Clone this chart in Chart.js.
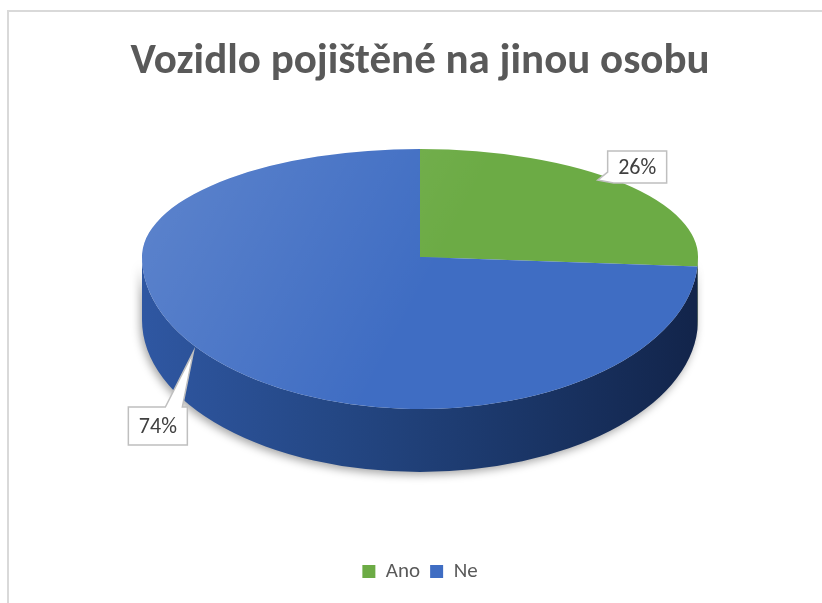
<!DOCTYPE html>
<html><head><meta charset="utf-8">
<script src="https://cdn.jsdelivr.net/npm/chart.js@4/dist/chart.umd.min.js"></script>
<style>
html,body{margin:0;padding:0;background:#fff;overflow:hidden;width:822px;height:603px}
#frame{position:absolute;left:7px;top:10px;width:900px;height:700px;border-left:2px solid #d9d9d9;border-top:2px solid #d9d9d9}
#c{position:absolute;left:0;top:0}
</style></head><body>
<div id="frame"><canvas id="c" width="822" height="593"></canvas></div>
<script>
const categories = ['Ano', 'Ne'];
const values = [26, 74];
const percentLabels = ['26%', '74%'];
const titleText = 'Vozidlo pojištěné na jinou osobu';

const topColors = ['#6CAB45', '#3F6DC3'];
const sideStops = [
  [[0,'#3E6C29'],[1,'#2A4A1B']],
  [[0,'#2F57A2'],[0.35,'#244784'],[0.7,'#1A3566'],[1,'#12244A']]
];

// perspective-like tilt: back half and front half of the top use different vertical scales
const tilt = {
  id: 'tilt',
  beforeDatasetsDraw(chart, args, opts) {
    const ctx = chart.ctx;
    const arcs = chart.getDatasetMeta(0).data;
    const a0 = arcs[0];
    const cx = a0.x, r = a0.outerRadius, cy = opts.centerY;
    const ryF = r * opts.front, d = opts.depth;
    ctx.save();
    ctx.shadowColor = 'rgba(0,0,0,0.35)';
    ctx.shadowBlur = 8;
    ctx.shadowOffsetX = -2;
    ctx.shadowOffsetY = 3;
    arcs.forEach((arc, i) => {
      const s = Math.max(arc.startAngle, 0), e = Math.min(arc.endAngle, Math.PI);
      if (e <= s) return;
      const g = ctx.createLinearGradient(cx - r, 0, cx + r, 0);
      sideStops[i].forEach(st => g.addColorStop(st[0], st[1]));
      ctx.beginPath();
      ctx.ellipse(cx, cy, r, ryF, 0, s, e, false);
      ctx.ellipse(cx, cy + d, r, ryF, 0, e, s, true);
      ctx.closePath();
      ctx.fillStyle = g;
      ctx.fill();
    });
    ctx.restore();
    // back half, drawn by the library itself
    ctx.save();
    ctx.beginPath();
    ctx.rect(0, 0, chart.width, cy + 1);
    ctx.clip();
    ctx.translate(cx, cy);
    ctx.scale(1, opts.back);
    ctx.translate(-cx, -a0.y);
  },
  afterDatasetsDraw(chart, args, opts) {
    const ctx = chart.ctx;
    ctx.restore();
    const arcs = chart.getDatasetMeta(0).data;
    const a0 = arcs[0];
    const cx = a0.x, r = a0.outerRadius, cy = opts.centerY;
    // front half
    ctx.save();
    ctx.beginPath();
    ctx.rect(0, cy, chart.width, chart.height);
    ctx.clip();
    ctx.translate(cx, cy);
    ctx.scale(1, opts.front);
    ctx.translate(-cx, -a0.y);
    arcs.forEach(arc => arc.draw(ctx));
    ctx.restore();
    // soft light on the top surface
    ctx.save();
    ctx.beginPath();
    ctx.ellipse(cx, cy, r, r * opts.back, 0, Math.PI, 2 * Math.PI, false);
    ctx.ellipse(cx, cy, r, r * opts.front, 0, 0, Math.PI, false);
    ctx.closePath();
    const lg = ctx.createLinearGradient(cx - r, cy - r * opts.back, cx, cy + 40);
    lg.addColorStop(0, 'rgba(255,255,255,0.16)');
    lg.addColorStop(1, 'rgba(255,255,255,0)');
    ctx.fillStyle = lg;
    ctx.fill();
    ctx.restore();
  }
};

const callouts = {
  id: 'callouts',
  afterDraw(chart, args, opts) {
    const ctx = chart.ctx;
    const arcs = chart.getDatasetMeta(0).data;
    const t = chart.options.plugins.tilt;
    arcs.forEach((arc, i) => {
      const mid = (arc.startAngle + arc.endAngle) / 2;
      const sn = Math.sin(mid);
      const ax = arc.x + arc.outerRadius * Math.cos(mid);
      const ay = t.centerY + arc.outerRadius * (sn < 0 ? t.back : t.front) * sn;
      const L = opts.layout[i];
      const tip = [ax + L.tip[0], ay + L.tip[1]];
      const bx = tip[0] + L.box[0], by = tip[1] + L.box[1], bw = L.box[2], bh = L.box[3];
      ctx.save();
      ctx.beginPath();
      if (L.side === 'top') {
        ctx.moveTo(bx, by);
        ctx.lineTo(bx + L.base[0], by);
        ctx.lineTo(tip[0], tip[1]);
        ctx.lineTo(bx + L.base[1], by);
        ctx.lineTo(bx + bw, by);
        ctx.lineTo(bx + bw, by + bh);
        ctx.lineTo(bx, by + bh);
      } else {
        ctx.moveTo(bx, by);
        ctx.lineTo(bx + bw, by);
        ctx.lineTo(bx + bw, by + bh);
        ctx.lineTo(bx + L.base[1], by + bh);
        ctx.lineTo(tip[0], tip[1]);
        ctx.lineTo(bx, by + L.base[0]);
      }
      ctx.closePath();
      ctx.fillStyle = '#ffffff';
      ctx.fill();
      ctx.lineWidth = 1.5;
      ctx.strokeStyle = '#BFBFBF';
      ctx.stroke();
      ctx.fillStyle = '#404040';
      ctx.font = '22px Carlito, Lato, sans-serif';
      ctx.textAlign = 'center';
      ctx.textBaseline = 'middle';
      ctx.fillText(percentLabels[i], bx + bw / 2, by + bh / 2 + 1);
      ctx.restore();
    });
  }
};

new Chart(document.getElementById('c'), {
  type: 'pie',
  data: {
    labels: categories,
    datasets: [{
      data: values,
      backgroundColor: topColors,
      borderWidth: 0,
      radius: 278,
      clip: false
    }]
  },
  options: {
    responsive: false,
    animation: false,
    devicePixelRatio: 1,
    events: [],
    layout: { padding: { top: 0, bottom: 13, left: 0, right: 0 } },
    plugins: {
      tooltip: { enabled: false },
      title: {
        display: true,
        text: titleText,
        color: '#595959',
        font: { family: 'Carlito, Lato, sans-serif', size: 43, weight: 'bold' },
        padding: { top: 24, bottom: 10 }
      },
      legend: {
        display: true,
        position: 'bottom',
        labels: {
          color: '#595959',
          font: { family: 'Carlito, Lato, sans-serif', size: 21 },
          boxWidth: 13,
          boxHeight: 13,
          padding: 10
        }
      },
      tilt: { centerY: 245, back: 108 / 278, front: 152 / 278, depth: 63 },
      callouts: {
        layout: [
          { tip: [-25, -3], box: [10, -29, 59, 32], base: [21, 6], side: 'corner' },
          { tip: [-24, -9], box: [-65, 55, 59, 38], base: [37, 54], side: 'top' }
        ]
      }
    }
  },
  plugins: [tilt, callouts]
});
</script>
</body></html>
